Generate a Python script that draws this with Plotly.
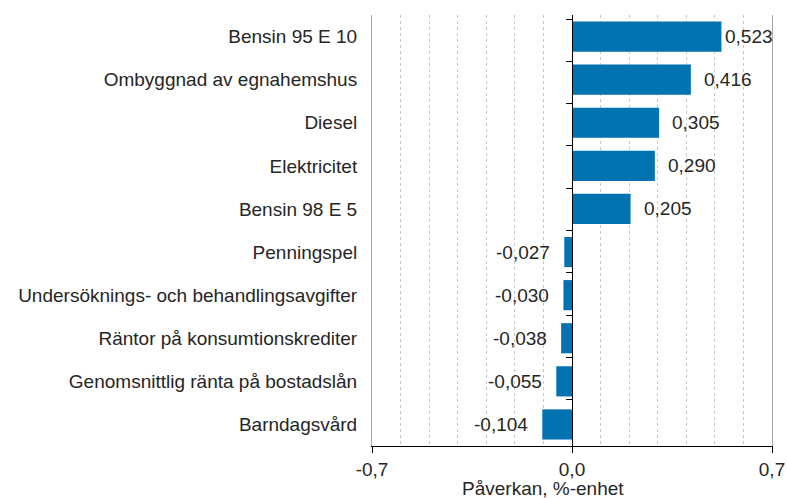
import plotly.graph_objects as go

categories = [
    "Bensin 95 E 10",
    "Ombyggnad av egnahemshus",
    "Diesel",
    "Elektricitet",
    "Bensin 98 E 5",
    "Penningspel",
    "Undersöknings- och behandlingsavgifter",
    "Räntor på konsumtionskrediter",
    "Genomsnittlig ränta på bostadslån",
    "Barndagsvård",
]
values = [0.523, 0.416, 0.305, 0.290, 0.205, -0.027, -0.030, -0.038, -0.055, -0.104]
x_tickvals = [-0.7, 0.0, 0.7]
x_ticktext = ["-0,7", "0,0", "0,7"]
x_title = "Påverkan, %-enhet"

FONT = "Liberation Sans, Arial, sans-serif"
FS = 19
BAR = "#0073B0"
TXT = "#262626"
W, H = 787, 498
ML, MR, MT, MB = 372, 15, 15, 52
XMIN, XMAX = -0.7, 0.7
px_per_unit = (W - ML - MR) / (XMAX - XMIN)

labels = [f"{v:.3f}".replace(".", ",") for v in values]

fig = go.Figure()
fig.add_trace(go.Bar(
    x=values, y=categories, orientation="h",
    marker=dict(color=BAR, line=dict(width=0)),
    hoverinfo="x+y", showlegend=False,
))
# helper trace to carry the category axis drawn at zero
fig.add_trace(go.Scatter(
    x=values, y=categories, yaxis="y2", mode="markers",
    marker=dict(opacity=0), hoverinfo="skip", showlegend=False,
))

annotations = []
for v, c, t in zip(values, categories, labels):
    width_est = (len(t) - 1) * 0.556 * FS + 0.278 * FS
    if v >= 0:
        avail = (XMAX - v) * px_per_unit
        shift = min(11, max(1, avail - width_est - 1))
        annotations.append(dict(x=v, y=c, xref="x", yref="y", text=t,
                                showarrow=False, xanchor="left", xshift=shift,
                                font=dict(family=FONT, size=FS, color=TXT)))
    else:
        annotations.append(dict(x=v, y=c, xref="x", yref="y", text=t,
                                showarrow=False, xanchor="right", xshift=-12,
                                font=dict(family=FONT, size=FS, color=TXT)))

annotations.append(dict(
    x=(543 - ML) / (W - ML - MR), y=(H - MB - 488) / (H - MT - MB),
    xref="paper", yref="paper", text=x_title, showarrow=False,
    xanchor="center", yanchor="middle",
    font=dict(family=FONT, size=FS, color=TXT),
))

fig.update_layout(
    width=W, height=H,
    margin=dict(l=ML, r=MR, t=MT, b=MB, pad=0, autoexpand=False),
    paper_bgcolor="white", plot_bgcolor="white",
    font=dict(family=FONT, size=FS, color=TXT),
    bargap=0.3,
    annotations=annotations,
    xaxis=dict(
        range=[XMIN, XMAX], tickvals=x_tickvals, ticktext=x_ticktext,
        showgrid=False, zeroline=True, zerolinecolor="#000", zerolinewidth=1,
        showline=True, linecolor="#000", linewidth=1,
        ticks="outside", ticklen=6, tickcolor="#000",
        minor=dict(dtick=0.1, tick0=0, showgrid=True, gridcolor="#c8c8c8",
                   griddash="dot", gridwidth=1, ticks=""),
        tickfont=dict(family=FONT, size=FS, color=TXT),
        fixedrange=True,
    ),
    yaxis=dict(
        type="category", categoryorder="array", categoryarray=categories,
        autorange="reversed", showgrid=False, zeroline=False,
        showline=True, mirror=True, linecolor="#a6a6a6", linewidth=1,
        ticks="", ticklabelstandoff=10,
        tickfont=dict(family=FONT, size=FS, color=TXT),
        fixedrange=True,
    ),
    yaxis2=dict(
        type="category", categoryorder="array", categoryarray=categories,
        autorange="reversed", overlaying="y", anchor="free", position=0.5,
        side="left", showgrid=False, zeroline=False,
        showline=True, linecolor="#000", linewidth=1,
        ticks="outside", ticklen=6, tickcolor="#000", tickson="boundaries",
        showticklabels=False, fixedrange=True,
    ),
)

fig.write_html(
    "out.html",
    config={"displayModeBar": False},
    post_script="document.body.style.margin='0';document.body.style.overflow='hidden';",
)
